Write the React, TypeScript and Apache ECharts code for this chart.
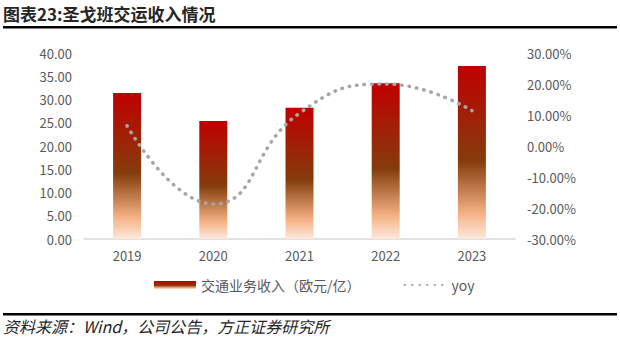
import React, { useEffect, useRef } from "react";
import * as echarts from "echarts";

const categories = ["2019", "2020", "2021", "2022", "2023"];
const revenue = [31.4, 25.4, 28.2, 33.5, 37.2];
const yoy = [6.5, -18.7, 10.6, 20.0, 11.4];
const titleText = "图表23:圣戈班交运收入情况";
const sourceText = "资料来源：Wind，公司公告，方正证券研究所";
const barName = "交通业务收入（欧元/亿）";
const lineName = "yoy";

const FONT = "'Noto Sans CJK SC', 'Noto Sans', sans-serif";

export default function App() {
  const ref = useRef<HTMLDivElement>(null);
  useEffect(() => {
    if (!ref.current) return;
    const chart = echarts.init(ref.current, undefined, { renderer: "svg" });
    const grad = new echarts.graphic.LinearGradient(0, 0, 0, 1, [
      { offset: 0, color: "#c00000" },
      { offset: 0.55, color: "#843c0c" },
      { offset: 0.85, color: "#f4b183" },
      { offset: 1, color: "#fde9dd" },
    ]);
    chart.setOption({
      animation: false,
      textStyle: { fontFamily: FONT },
      grid: { left: 84, right: 105, top: 53, bottom: 102 },
      legend: {
        left: 154,
        top: 278,
        padding: 0,
        itemGap: 43,
        itemWidth: 42,
        itemHeight: 8,
        textStyle: { color: "#595959", fontSize: 14, fontFamily: FONT },
        data: [
          { name: barName, icon: "rect" },
          { name: lineName, itemStyle: { opacity: 0 } },
        ],
      },
      xAxis: {
        type: "category",
        data: categories,
        axisLine: { lineStyle: { color: "#d9d9d9", width: 1.5 } },
        axisTick: { show: false },
        axisLabel: { color: "#595959", fontSize: 13, margin: 10 },
      },
      yAxis: [
        {
          type: "value",
          min: 0,
          max: 40,
          interval: 5,
          splitLine: { show: false },
          axisLine: { show: false },
          axisTick: { show: false },
          axisLabel: {
            color: "#595959",
            fontSize: 13,
            margin: 12,
            formatter: (v: number) => v.toFixed(2),
          },
        },
        {
          type: "value",
          min: -30,
          max: 30,
          interval: 10,
          splitLine: { show: false },
          axisLine: { show: false },
          axisTick: { show: false },
          axisLabel: {
            color: "#595959",
            fontSize: 13,
            margin: 12,
            formatter: (v: number) => `${v.toFixed(2)}%`,
          },
        },
      ],
      series: [
        {
          name: barName,
          type: "bar",
          data: revenue,
          barWidth: 28,
          itemStyle: { color: grad },
        },
        {
          name: lineName,
          type: "line",
          yAxisIndex: 1,
          data: yoy,
          smooth: 0.5,
          showSymbol: false,
          symbol: "none",
          itemStyle: { color: "#a6a6a6" },
          lineStyle: { color: "#a6a6a6", width: 3.5, type: [0.5, 7], cap: "round" },
        },
      ],
      graphic: [
        {
          type: "text",
          left: 3,
          top: 5,
          style: {
            text: titleText,
            font: `bold 17px ${FONT}`,
            fill: "#262626",
          },
        },
        {
          type: "rect",
          shape: { x: 3, y: 26, width: 614, height: 2.5 },
          style: { fill: "#000" },
        },
        {
          type: "rect",
          shape: { x: 3, y: 313, width: 614, height: 2.5 },
          style: { fill: "#000" },
        },
        {
          type: "text",
          left: 3,
          top: 318,
          style: {
            text: sourceText,
            font: `italic 16px ${FONT}`,
            fill: "#262626",
          },
        },
      ],
    });
    return () => chart.dispose();
  }, []);
  return (
    <div
      ref={ref}
      style={{ position: "fixed", left: 0, top: 0, width: 620, height: 341, background: "#fff" }}
    />
  );
}
